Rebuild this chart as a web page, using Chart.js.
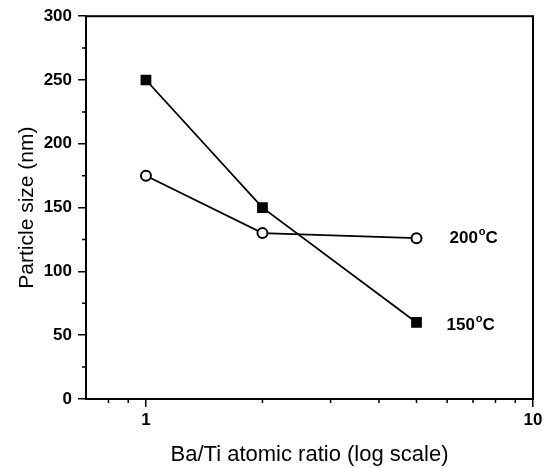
<!DOCTYPE html>
<html>
<head>
<meta charset="utf-8">
<script src="https://cdn.jsdelivr.net/npm/chart.js@4"></script>
<style>
  html, body { margin: 0; padding: 0; background: #fff; }
  #caja { width: 553px; height: 468px; }
</style>
</head>
<body>
<div id="caja"><canvas id="miGrafico"></canvas></div>
<script>
// Datos
const razones = [1, 2, 5];                 // Ba/Ti atomic ratio
const tam150 = [250, 150, 60];             // 150 oC
const tam200 = [175, 130, 126];            // 200 oC
const nombres = ['150', '200'];
const ticksX = [1, 10];
const ticksXMenores = [0.8, 0.9, 2, 3, 4, 5, 6, 7, 8, 9];
const ticksYMenores = [25, 75, 125, 175, 225, 275];

const fuente = "'Liberation Sans', Arial, sans-serif";

// Marco, ticks menores y etiquetas de las series
const extras = {
    id: 'extras',
    afterDraw(chart) {
        const ctx = chart.ctx;
        const a = chart.chartArea;
        const sx = chart.scales.x;
        const sy = chart.scales.y;
        ctx.save();
        ctx.strokeStyle = '#000';
        ctx.lineWidth = 2;
        ctx.strokeRect(a.left, a.top, a.right - a.left, a.bottom - a.top);

        ctx.lineWidth = 1.5;
        ctx.beginPath();
        ticksXMenores.forEach(function (v) {
            const px = sx.getPixelForValue(v);
            ctx.moveTo(px, a.bottom);
            ctx.lineTo(px, a.bottom + 4);
        });
        ticksYMenores.forEach(function (v) {
            const py = sy.getPixelForValue(v);
            ctx.moveTo(a.left, py);
            ctx.lineTo(a.left - 4, py);
        });
        ctx.stroke();

        // etiquetas al lado del ultimo punto
        ctx.fillStyle = '#000';
        ctx.textBaseline = 'middle';
        ctx.textAlign = 'left';
        nombres.forEach(function (nombre, i) {
            const meta = chart.getDatasetMeta(i);
            const pt = meta.data[meta.data.length - 1];
            let x = pt.x + (i === 0 ? 30 : 33);
            const y = pt.y + (i === 0 ? 3 : 0);
            ctx.font = 'bold 17px ' + fuente;
            ctx.fillText(nombre, x, y);
            x += ctx.measureText(nombre).width + 1;
            ctx.font = 'bold 11px ' + fuente;
            ctx.fillText('o', x, y - 6);
            x += ctx.measureText('o').width;
            ctx.font = 'bold 17px ' + fuente;
            ctx.fillText('C', x, y);
        });
        ctx.restore();
    }
};

const ctx = document.getElementById('miGrafico').getContext('2d');
new Chart(ctx, {
    type: 'line',
    data: {
        datasets: [{
            label: '150',
            data: razones.map(function (r, i) { return { x: r, y: tam150[i] }; }),
            borderColor: '#000',
            borderWidth: 1.8,
            pointStyle: 'rect',
            pointRadius: 7.6,
            pointBackgroundColor: '#000',
            pointBorderWidth: 0,
            tension: 0
        }, {
            label: '200',
            data: razones.map(function (r, i) { return { x: r, y: tam200[i] }; }),
            borderColor: '#000',
            borderWidth: 1.8,
            pointStyle: 'circle',
            pointRadius: 5,
            pointBackgroundColor: '#fff',
            pointBorderColor: '#000',
            pointBorderWidth: 2,
            tension: 0
        }]
    },
    options: {
        responsive: true,
        maintainAspectRatio: false,
        animation: false,
        layout: { padding: { top: 14, right: 20, left: 0, bottom: 0 } },
        plugins: {
            legend: { display: false },
            tooltip: { enabled: false }
        },
        scales: {
            x: {
                type: 'logarithmic',
                min: 0.7,
                max: 10,
                afterBuildTicks: function (scale) {
                    scale.ticks = ticksX.map(function (v) { return { value: v }; });
                },
                afterFit: function (scale) { scale.height = 69; },
                grid: { drawOnChartArea: false, drawTicks: true, tickLength: 8, color: '#000', lineWidth: 1.5 },
                border: { display: false },
                ticks: {
                    color: '#000',
                    padding: 3,
                    maxRotation: 0,
                    font: { family: fuente, size: 17, weight: 'bold' },
                    callback: function (v) { return String(v); }
                },
                title: {
                    display: true,
                    text: 'Ba/Ti atomic ratio (log scale)',
                    color: '#000',
                    padding: { top: 4, bottom: 0 },
                    font: { family: fuente, size: 22 }
                }
            },
            y: {
                min: 0,
                max: 300,
                afterFit: function (scale) { scale.width = 86; },
                grid: { drawOnChartArea: false, drawTicks: true, tickLength: 8, color: '#000', lineWidth: 1.5 },
                border: { display: false },
                ticks: {
                    stepSize: 50,
                    color: '#000',
                    padding: 6,
                    font: { family: fuente, size: 17, weight: 'bold' }
                },
                title: {
                    display: true,
                    text: 'Particle size (nm)',
                    color: '#000',
                    padding: { top: 15, bottom: 0 },
                    font: { family: fuente, size: 21 }
                }
            }
        }
    },
    plugins: [extras]
});
</script>
</body>
</html>
